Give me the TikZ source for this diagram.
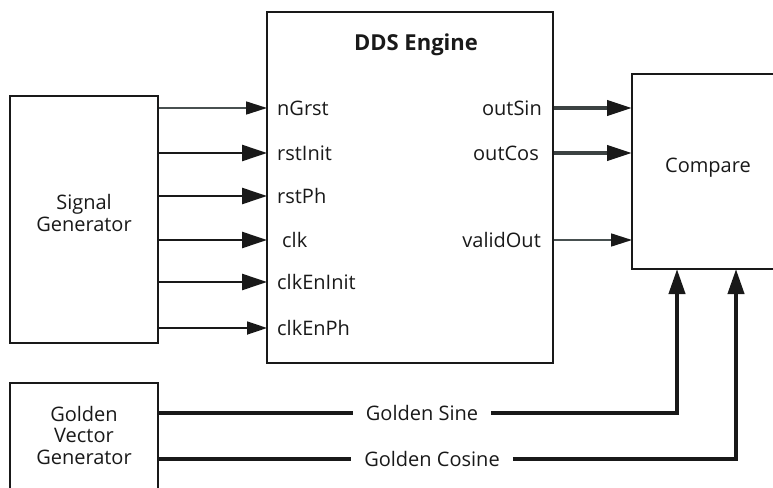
\documentclass[tikz,border=0pt]{standalone}
\usepackage{fontspec}
\setmainfont{Open Sans}
\usetikzlibrary{arrows.meta}
\definecolor{wiregray}{RGB}{72,80,80}
\definecolor{busgray}{RGB}{60,66,66}
\tikzset{
  blockbox/.style={draw=black!90, line width=1.8pt, fill=none, inner sep=0pt},
  blocktext/.style={align=center, font=\fontsize{20}{21.5}\selectfont, text=black!90},
  portlbl/.style={font=\fontsize{20}{22}\selectfont, text=black!90, inner sep=0pt},
  sigwire/.style={line width=2.5pt, black!90, -{Triangle[length=25pt,width=16pt,color=black!90]}},
  thinwire/.style={line width=1.8pt, black!90, -{Triangle[length=20pt,width=13pt,color=black!90]}},
  graywire/.style={line width=1.6pt, wiregray, -{Triangle[length=21pt,width=13pt,color=black!90]}},
  buswire/.style={line width=4pt, busgray, -{Triangle[length=25pt,width=15pt,color=black!90]}},
  goldwire/.style={line width=4pt, black!90},
  goldarrow/.style={goldwire, -{Triangle[length=25pt,width=16pt,color=black!90]}}
}
\begin{document}
\begin{tikzpicture}[x=1pt,y=-1pt]
\useasboundingbox (0,0) rectangle (773,487);

% blocks
\node[blockbox, minimum width=148pt, minimum height=247pt] (sig) at (84,219.5) {};
\node[blocktext] (sigtxt) at (84,213) {Signal\\Generator};
\node[blockbox, minimum width=286pt, minimum height=351pt] (dds) at (410,187.5) {};
\node[font=\fontsize{22}{24}\selectfont\bfseries, text=black!90] (ddstxt) at (416,45) {DDS Engine};
\node[blockbox, minimum width=160pt, minimum height=195pt] (cmp) at (712,171.5) {};
\node[blocktext] (cmptxt) at (708,168) {Compare};
\node[blockbox, minimum width=148pt, minimum height=120pt] (gold) at (84,443) {};
\node[blocktext] (goldtxt) at (84,435) {Golden\\Vector\\Generator};

% input ports of the engine
\coordinate (pA) at (267,108);
\coordinate (pB) at (267,153);
\coordinate (pC) at (267,196);
\coordinate (pD) at (267,240);
\coordinate (pE) at (267,282);
\coordinate (pF) at (267,328);
\node[portlbl, anchor=west] (lA) at (277,108) {nGrst};
\node[portlbl, anchor=west] (lB) at (277,153) {rstInit};
\node[portlbl, anchor=west] (lC) at (277,196) {rstPh};
\node[portlbl, anchor=west] (lD) at (282,240) {clk};
\node[portlbl, anchor=west] (lE) at (277,282) {clkEnInit};
\node[portlbl, anchor=west] (lF) at (277,328) {clkEnPh};

\draw[graywire] (sig.east |- pA) -- (pA);
\draw[sigwire] (sig.east |- pB) -- (pB);
\draw[sigwire] (sig.east |- pC) -- (pC);
\draw[sigwire] (sig.east |- pD) -- (pD);
\draw[sigwire] (sig.east |- pE) -- (pE);
\draw[thinwire] (sig.east |- pF) -- (pF);

% output ports of the engine
\coordinate (qA) at (632,108);
\coordinate (qB) at (632,153);
\coordinate (qC) at (632,240);
\node[portlbl, anchor=east] (oA) at (542,108) {outSin};
\node[portlbl, anchor=east] (oB) at (539,153) {outCos};
\node[portlbl, anchor=east] (oC) at (541,240) {validOut};
\draw[buswire] (dds.east |- qA) -- (qA);
\draw[buswire] (dds.east |- qB) -- (qB);
\draw[graywire] (dds.east |- qC) -- (qC);

% golden reference paths
\coordinate (sinin) at (677,269);
\coordinate (cosin) at (736,269);
\node[portlbl, inner xsep=13pt] (gsin) at (422,413) {Golden Sine};
\node[portlbl, inner xsep=13pt] (gcos) at (432,459) {Golden Cosine};
\draw[goldwire] (gold.east |- gsin) -- (gsin.west);
\draw[goldwire] (gold.east |- gcos) -- (gcos.west);
\draw[goldarrow] (gsin.east) -| (sinin);
\draw[goldarrow] (gcos.east) -| (cosin);
\end{tikzpicture}
\end{document}
